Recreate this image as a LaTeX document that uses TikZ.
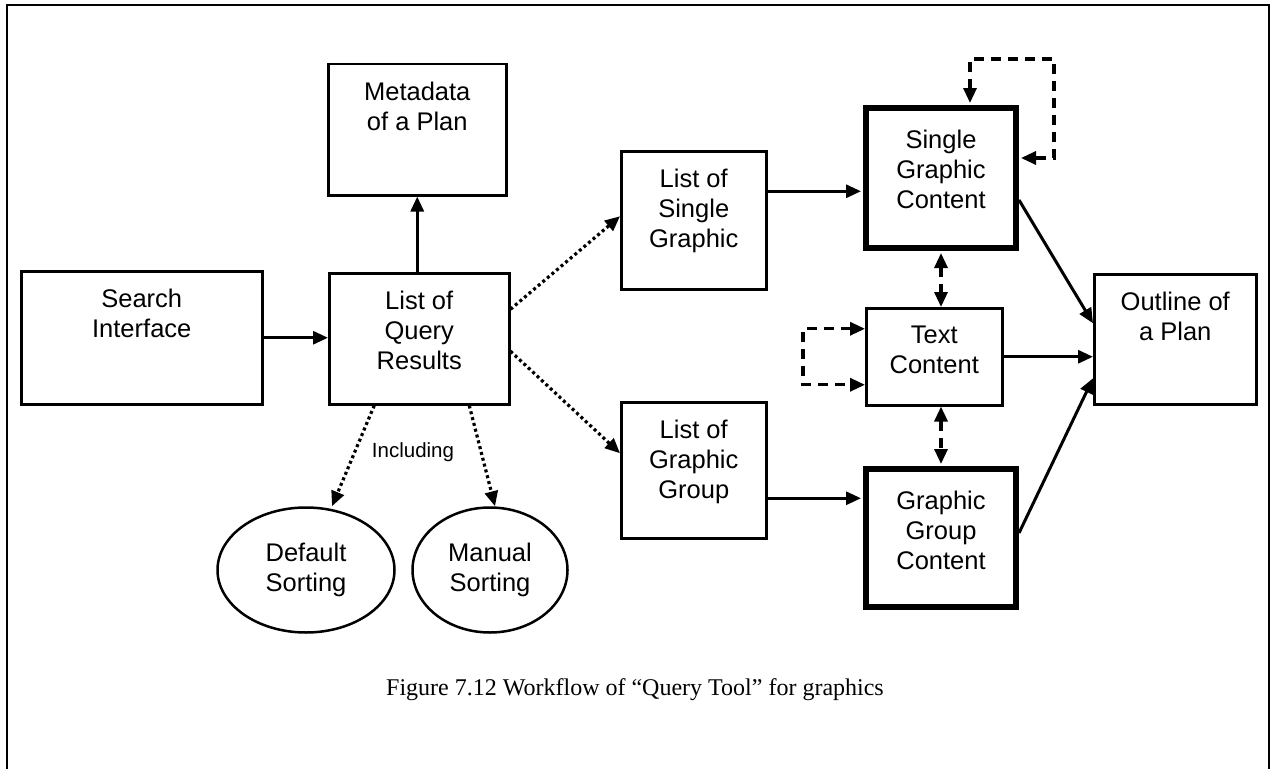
\documentclass[tikz,border=0pt]{standalone}
\usepackage{fontspec}
\setmainfont{Liberation Sans}
\newfontfamily\capfont{Liberation Serif}
\usetikzlibrary{arrows.meta,shapes.geometric}
\newcommand{\bt}[4]{\parbox[c][#2][t]{#1}{\centering\vspace*{#3}\rule{0pt}{21pt}#4}}
\tikzset{
  >={Triangle[length=15pt,width=13pt]},
  box/.style={draw, line width=2.5pt, inner sep=0pt, anchor=north west,
              font=\fontsize{25.5pt}{30pt}\selectfont},
  thickbox/.style={box, line width=6pt},
  ell/.style={draw, ellipse, line width=2.5pt, inner sep=0pt, align=center,
              font=\fontsize{25.5pt}{30pt}\selectfont},
  arr/.style={->, line width=3pt},
  dotl/.style={->, line width=3.2pt, dash pattern=on 3pt off 3pt},
  dshl/.style={line width=3.2pt, dash pattern=on 10pt off 7pt},
}
\begin{document}
\begin{tikzpicture}[x=1pt,y=-1pt]
\useasboundingbox (0,0) rectangle (1271,768);
\draw[line width=2.5pt] (7,770) -- (7,5) -- (1269,5) -- (1269,770);

\node[box] (search) at (20,270) {\bt{241pt}{133pt}{15pt}{Search\\Interface}};
\node[box] (list) at (328,272) {\bt{180pt}{131pt}{15pt}{List of\\Query\\Results}};
\node[box] (meta) at (327,63) {\bt{178pt}{131pt}{15pt}{Metadata\\of a Plan}};
\node[box] (lsg) at (620,150) {\bt{145pt}{138pt}{15pt}{List of\\Single\\Graphic}};
\node[box] (lgg) at (620,401) {\bt{145pt}{136pt}{15pt}{List of\\Graphic\\Group}};
\node[thickbox] (sgc) at (863,105) {\bt{150pt}{140pt}{19pt}{Single\\Graphic\\Content}};
\node[box] (tc) at (865,307) {\bt{136pt}{97pt}{14pt}{Text\\Content}};
\node[thickbox] (ggc) at (863,466) {\bt{150pt}{138pt}{19pt}{Graphic\\Group\\Content}};
\node[box] (out) at (1093,273) {\bt{162pt}{130pt}{15pt}{Outline of\\a Plan}};

\node[ell, minimum width=177pt, minimum height=125pt] (dsort) at (306,570) {Default\\Sorting};
\node[ell, minimum width=155pt, minimum height=125pt] (msort) at (490,570) {Manual\\Sorting};

\node[font=\fontsize{20.5pt}{24pt}\selectfont] (incl) at (413,452) {Including};
\node[font=\capfont\fontsize{24pt}{28pt}\selectfont] (cap) at (635,690) {Figure 7.12 Workflow of “Query Tool” for graphics};

\draw[arr] (search.east) -- (search.east -| list.west);
\draw[arr] (meta.south |- list.north) -- (meta.south);
\draw[dotl] ([yshift=29.5pt]list.east) -- ([yshift=4pt]lsg.west);
\draw[dotl] ([yshift=-12.5pt]list.east) -- ([yshift=17pt]lgg.west);
\draw[dotl] ([xshift=-45pt]list.south) -- ([xshift=26pt]dsort.north);
\draw[dotl] ([xshift=50pt]list.south) -- ([xshift=5pt]msort.north);
\draw[arr, shorten >=2pt] ([yshift=29pt]lsg.east) -- ([yshift=29pt]lsg.east -| sgc.west);
\draw[arr, shorten >=2pt] ([yshift=-28pt]lgg.east) -- ([yshift=-28pt]lgg.east -| ggc.west);
\draw[dshl,<->, shorten <=2pt] (sgc.south) -- (sgc.south |- tc.north);
\draw[dshl,<->, shorten >=2pt] (tc.south -| ggc.north) -- (ggc.north);
\draw[arr] ([yshift=-22pt]sgc.east) -- ([yshift=16pt]out.west);
\draw[arr] (tc.east) -- (tc.east -| out.west);
\draw[arr] ([yshift=5pt]ggc.east) -- ([yshift=-39pt]out.west);

\coordinate (lp1) at (1054,59);
\draw[dshl,<->, shorten <=2pt, shorten >=2pt] ([xshift=29pt]sgc.north) |- (lp1) |- ([yshift=20pt]sgc.east);
\coordinate (lp2) at (803,355);
\draw[dshl,<->] ([yshift=28pt]tc.west) -| (lp2) |- ([yshift=-28pt]tc.west);
\end{tikzpicture}
\end{document}
